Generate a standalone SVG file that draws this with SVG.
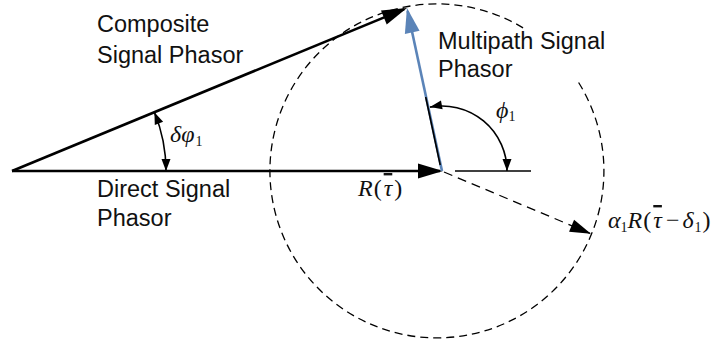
<svg xmlns="http://www.w3.org/2000/svg" width="715" height="345" viewBox="0 0 715 345">
<style>
.lbl{font-family:"Liberation Sans",Arial,sans-serif;font-size:23.5px;fill:#111}
.m{font-family:"Liberation Serif","Times New Roman",serif;font-size:24px;fill:#111}
.it{font-style:italic}
.bar{font-style:italic;text-decoration:overline}
.sub{font-size:14px}
.ln{fill:none;stroke:#000}
</style>
<defs>
<marker id="big" markerUnits="userSpaceOnUse" markerWidth="26" markerHeight="16" refX="22" refY="7.5" orient="auto" overflow="visible">
<path d="M0,0 L25,7.5 L0,15 Z" fill="#000"/>
</marker>
<marker id="bigBlue" markerUnits="userSpaceOnUse" markerWidth="26" markerHeight="16" refX="22" refY="7.5" orient="auto" overflow="visible">
<path d="M0,0 L25,7.5 L0,15 Z" fill="#5b84b8"/>
</marker>
<marker id="dashHead" markerUnits="userSpaceOnUse" markerWidth="22" markerHeight="14" refX="20" refY="6.5" orient="auto" overflow="visible">
<path d="M0,0 L21,6.5 L0,13 Z" fill="#000"/>
</marker>
<marker id="sm" markerUnits="userSpaceOnUse" markerWidth="13" markerHeight="10" refX="12" refY="4.5" orient="auto-start-reverse" overflow="visible">
<path d="M0,0 L12,4.5 L0,9 Z" fill="#000"/>
</marker>
</defs>

<g id="circle">
<path class="ln" d="M578.6,82.5 A167,167 0 1 1 524,28.4" stroke-width="1.3" stroke-dasharray="8,5"/>
</g>

<g id="connectors">
<line id="direct" class="ln" x1="12" y1="171" x2="440" y2="171" stroke-width="2.6" marker-end="url(#big)"/>
<line id="composite" class="ln" x1="12" y1="171" x2="404.2" y2="9.1" stroke-width="2.6" marker-end="url(#big)"/>
<line id="multipath" x1="442" y1="171" x2="407.6" y2="10.9" stroke="#5b84b8" stroke-width="2.6" marker-end="url(#bigBlue)"/>
<line class="ln" x1="425.7" y1="97" x2="440.2" y2="165" stroke-width="1.6"/>
<line id="ref" class="ln" x1="455" y1="171" x2="531" y2="171" stroke-width="1.6"/>
<line id="alpha" class="ln" x1="444" y1="172" x2="590" y2="233.4" stroke-width="1.3" stroke-dasharray="9,6" marker-end="url(#dashHead)"/>
<path id="phiArc" class="ln" d="M430,107.1 A65,65 0 0 1 507,171" stroke-width="1.6" marker-start="url(#sm)" marker-end="url(#sm)"/>
<path id="dphiArc" class="ln" d="M154.4,112.3 A154,154 0 0 1 166,171" stroke-width="1.6" marker-start="url(#sm)" marker-end="url(#sm)"/>
</g>

<g id="composite-label">
<text class="lbl" x="97" y="32">Composite</text>
<text class="lbl" x="97" y="63">Signal Phasor</text>
</g>
<g id="multipath-label">
<text class="lbl" x="438" y="49">Multipath Signal</text>
<text class="lbl" x="438" y="77">Phasor</text>
</g>
<g id="direct-label">
<text class="lbl" x="97" y="197">Direct Signal</text>
<text class="lbl" x="97" y="226">Phasor</text>
</g>

<g id="math">
<text class="m" x="170" y="142"><tspan class="it">δφ</tspan><tspan class="sub" dx="1" dy="4">1</tspan></text>
<text class="m" x="496" y="118"><tspan class="it">ϕ</tspan><tspan class="sub" dx="0" dy="3">1</tspan></text>
<text class="m" x="358" y="196"><tspan class="it">R</tspan><tspan dx="1">(</tspan><tspan class="bar" dx="2">τ</tspan><tspan dx="2">)</tspan></text>
<text class="m" x="608" y="228"><tspan class="it">α</tspan><tspan class="sub" dy="4">1</tspan><tspan class="it" dy="-4">R</tspan><tspan dx="1">(</tspan><tspan class="bar" dx="2">τ</tspan><tspan dx="4">−</tspan><tspan class="it" dx="3">δ</tspan><tspan class="sub" dx="1" dy="4">1</tspan><tspan dx="1" dy="-4">)</tspan></text>
</g>
</svg>
